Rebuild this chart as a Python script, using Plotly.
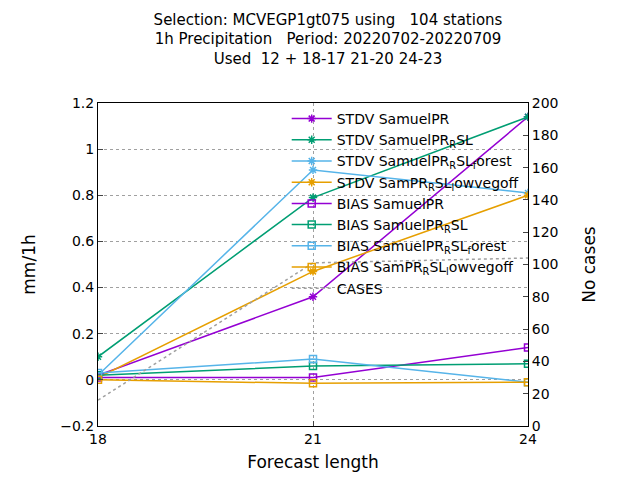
import plotly.graph_objects as go

lead = [18, 21, 24]
stdv_samuel = [0.02, 0.36, 1.14]
stdv_rsl = [0.10, 0.79, 1.14]
stdv_forest = [0.02, 0.91, 0.81]
stdv_lowveg = [0.01, 0.47, 0.80]
bias_samuel = [0.01, 0.01, 0.14]
bias_rsl = [0.02, 0.06, 0.07]
bias_forest = [0.03, 0.09, -0.01]
bias_lowveg = [0.00, -0.015, -0.01]
cases = [16, 101, 104]

purple, green, blue, orange = "#9400d3", "#009e73", "#56b4e9", "#e69f00"

series = [
    ("STDV SamuelPR", stdv_samuel, purple, "asterisk-open"),
    ("STDV SamuelPR<sub>R</sub>SL", stdv_rsl, green, "asterisk-open"),
    ("STDV SamuelPR<sub>R</sub>SL<sub>f</sub>orest", stdv_forest, blue, "asterisk-open"),
    ("STDV SamPR<sub>R</sub>SL<sub>l</sub>owvegoff", stdv_lowveg, orange, "asterisk-open"),
    ("BIAS SamuelPR", bias_samuel, purple, "square-open"),
    ("BIAS SamuelPR<sub>R</sub>SL", bias_rsl, green, "square-open"),
    ("BIAS SamuelPR<sub>R</sub>SL<sub>f</sub>orest", bias_forest, blue, "square-open"),
    ("BIAS SamPR<sub>R</sub>SL<sub>l</sub>owvegoff", bias_lowveg, orange, "square-open"),
]

fig = go.Figure()
for name, vals, col, sym in series:
    fig.add_trace(go.Scatter(x=lead, y=vals, name=name, mode="lines+markers",
                             line=dict(color=col, width=1.5),
                             marker=dict(symbol=sym, size=7, color=col, line=dict(color=col, width=1.5))))
fig.add_trace(go.Scatter(x=lead, y=cases, name="CASES", mode="lines", yaxis="y2",
                         line=dict(color="#a0a0a0", width=1.5, dash="dot")))

fig.update_layout(
    width=640, height=480, plot_bgcolor="white", paper_bgcolor="white",
    margin=dict(l=90, r=120, t=95, b=62, autoexpand=False),
    font=dict(family="DejaVu Sans", size=14, color="black"),
    title=dict(text="Selection: MCVEGP1gt075 using   104 stations<br>1h Precipitation   Period: 20220702-20220709<br>Used  12 + 18-17 21-20 24-23",
               x=0.5, xanchor="center", y=0.965, yanchor="top", font=dict(size=15)),
    xaxis=dict(range=[18, 24], tickvals=lead, title=dict(text="Forecast length", standoff=10),
               showline=True, mirror=True, linecolor="black", ticks="inside", automargin=False,
               showgrid=True, gridcolor="#a0a0a0", griddash="dot", zeroline=False),
    yaxis=dict(range=[-0.2, 1.2], dtick=0.2, title=dict(text="mm/1h", standoff=20), showline=True,
               linecolor="black", automargin=False,
               ticks="inside", showgrid=True, gridcolor="#a0a0a0", griddash="dot", zeroline=False),
    yaxis2=dict(range=[0, 200], dtick=20, overlaying="y", side="right",
                title=dict(text="No cases", standoff=25), automargin=False,
                showline=True, linecolor="black", ticks="inside", showgrid=False, zeroline=False),
    legend=dict(x=0.99, y=1.0, xanchor="right", yanchor="top", bgcolor="rgba(0,0,0,0)",
                font=dict(size=14), tracegroupgap=0, itemwidth=40),
)
fig.write_html("out.html")
